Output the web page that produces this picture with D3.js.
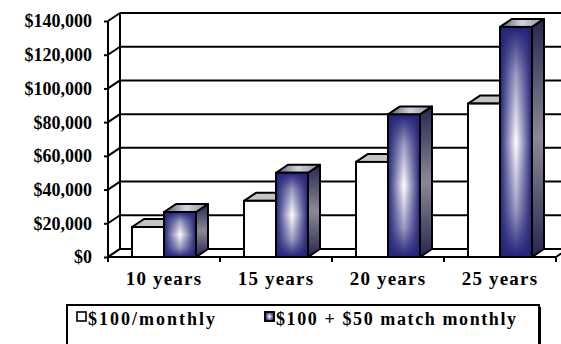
<!DOCTYPE html>
<html>
<head>
<meta charset="utf-8">
<script src="https://cdn.jsdelivr.net/npm/d3@7"></script>
<style>
  body { margin: 0; background: #fff; }
  svg { display: block; }
  text { font-family: "Liberation Serif", "Times New Roman", serif; font-weight: bold; fill: #000; }
</style>
</head>
<body>
<svg id="chart"></svg>
<script>
// chart data
const categories = ['10 years', '15 years', '20 years', '25 years'];
const seriesNames = ['$100/monthly', '$100 + $50 match monthly'];
const monthlyValues = [17800, 33300, 56400, 91000];
const matchValues = [26700, 50000, 84600, 136500];
const yTicks = [0, 20000, 40000, 60000, 80000, 100000, 120000, 140000];

const width = 561, height = 344;
const depth = {dx: 12, dy: 8};   // 3d offset of the back wall
const plot = {left: 108, right: 556, top: 21, bottom: 257};

const svg = d3.select('#chart')
    .attr('width', width)
    .attr('height', height);

// gradients for the blue columns
const defs = svg.append('defs');

function linGrad(id, horizontal, stops) {
  const g = defs.append('linearGradient')
      .attr('id', id)
      .attr('x1', 0).attr('y1', 0)
      .attr('x2', horizontal ? 1 : 0)
      .attr('y2', horizontal ? 0 : 1);
  stops.forEach(s => g.append('stop')
      .attr('offset', s[0])
      .attr('stop-color', s[1])
      .attr('stop-opacity', s[2] === undefined ? 1 : s[2]));
}
const navy = '#222278';
linGrad('frontH', true, [[0, navy], [0.5, '#ffffff'], [1, navy]]);
linGrad('frontV', false, [[0, navy, 1], [0.2, navy, 0.45], [0.5, navy, 0], [0.8, navy, 0.45], [1, navy, 1]]);
linGrad('sideV', false, [[0, '#262650'], [0.5, '#8a8a94'], [1, '#262650']]);
linGrad('topH', true, [[0, '#55557a'], [0.5, '#d4d4dc'], [1, '#8a8a9c']]);

// scales
const x0 = d3.scaleBand()
    .domain(categories)
    .range([plot.left, plot.right])
    .padding(0);

const x1 = d3.scaleBand()
    .domain(seriesNames)
    .range([0, x0.bandwidth()])
    .paddingInner(0)
    .paddingOuter(0.75);

const y = d3.scaleLinear()
    .domain([0, 140000])
    .range([plot.bottom, plot.top]);

const g = svg.append('g');
const lineW = 2;

// back wall gridlines
g.selectAll('.grid')
    .data(yTicks)
  .join('line')
    .attr('class', 'grid')
    .attr('x1', plot.left + depth.dx)
    .attr('x2', plot.right + depth.dx)
    .attr('y1', d => y(d) - depth.dy)
    .attr('y2', d => y(d) - depth.dy)
    .attr('stroke', '#000')
    .attr('stroke-width', lineW);

// left wall
g.append('line')
    .attr('x1', plot.left + depth.dx).attr('x2', plot.left + depth.dx)
    .attr('y1', y(140000) - depth.dy).attr('y2', y(0) - depth.dy)
    .attr('stroke', '#000').attr('stroke-width', lineW);

g.selectAll('.wall-diag')
    .data(yTicks)
  .join('line')
    .attr('class', 'wall-diag')
    .attr('x1', plot.left)
    .attr('x2', plot.left + depth.dx)
    .attr('y1', d => y(d))
    .attr('y2', d => y(d) - depth.dy)
    .attr('stroke', '#000')
    .attr('stroke-width', lineW);

// floor
g.append('path')
    .attr('d', `M${plot.left},${y(0)}L${plot.right},${y(0)}L${plot.right + depth.dx},${y(0) - depth.dy}L${plot.left + depth.dx},${y(0) - depth.dy}Z`)
    .attr('fill', '#fff')
    .attr('stroke', '#000')
    .attr('stroke-width', lineW)
    .attr('stroke-linejoin', 'round');

// y axis (front edge)
const yAxis = d3.axisLeft(y)
    .tickValues(yTicks)
    .tickSize(4)
    .tickPadding(12)
    .tickFormat(d3.format('$,'));

const yAxisG = g.append('g')
    .attr('transform', `translate(${plot.left},0)`)
    .call(yAxis)
    .attr('font-family', null)
    .attr('font-size', null);
yAxisG.select('.domain')
    .attr('stroke-width', lineW)
    .attr('d', `M0,${y(140000)}V${y(0)}`);
yAxisG.selectAll('.tick line').attr('stroke-width', lineW);
yAxisG.selectAll('.tick text')
    .style('font-size', '18px')
    .attr('dy', '0.33em');

// x axis (front edge of floor), ticks between categories
const xAxisG = g.append('g');
xAxisG.selectAll('.xtick')
    .data(categories.map(c => x0(c)).concat([plot.right]))
  .join('line')
    .attr('class', 'xtick')
    .attr('x1', d => d).attr('x2', d => d)
    .attr('y1', y(0)).attr('y2', y(0) + 5)
    .attr('stroke', '#000')
    .attr('stroke-width', lineW);

xAxisG.selectAll('.xlabel')
    .data(categories)
  .join('text')
    .attr('class', 'xlabel')
    .attr('x', d => x0(d) + x0.bandwidth() / 2)
    .attr('y', 285)
    .attr('text-anchor', 'middle')
    .style('font-size', '19px')
    .style('letter-spacing', '1.2px')
    .text(d => d);

// bars
const barData = [];
categories.forEach((c, i) => {
  barData.push({cat: c, series: seriesNames[0], value: monthlyValues[i]});
  barData.push({cat: c, series: seriesNames[1], value: matchValues[i]});
});

const bars = g.selectAll('.bar')
    .data(barData)
  .join('g')
    .attr('class', 'bar');

bars.each(function(d) {
  const b = d3.select(this);
  const xl = x0(d.cat) + x1(d.series);
  const xr = xl + x1.bandwidth();
  const yt = y(d.value), yb = y(0);
  const isMatch = d.series === seriesNames[1];

  // side face
  b.append('path')
      .attr('d', `M${xr},${yb}L${xr + depth.dx},${yb - depth.dy}L${xr + depth.dx},${yt - depth.dy}L${xr},${yt}Z`)
      .attr('fill', isMatch ? 'url(#sideV)' : '#fff')
      .attr('stroke', '#000').attr('stroke-width', lineW)
      .attr('stroke-linejoin', 'round');
  // top face
  b.append('path')
      .attr('d', `M${xl},${yt}L${xl + depth.dx},${yt - depth.dy}L${xr + depth.dx},${yt - depth.dy}L${xr},${yt}Z`)
      .attr('fill', isMatch ? 'url(#topH)' : '#c4c4c4')
      .attr('stroke', '#000').attr('stroke-width', lineW)
      .attr('stroke-linejoin', 'round');
  // front face
  b.append('rect')
      .attr('x', xl).attr('y', yt)
      .attr('width', xr - xl).attr('height', yb - yt)
      .attr('fill', isMatch ? 'url(#frontH)' : '#fff');
  if (isMatch) {
    b.append('rect')
        .attr('x', xl).attr('y', yt)
        .attr('width', xr - xl).attr('height', yb - yt)
        .attr('fill', 'url(#frontV)');
  }
  b.append('rect')
      .attr('x', xl).attr('y', yt)
      .attr('width', xr - xl).attr('height', yb - yt)
      .attr('fill', 'none')
      .attr('stroke', '#000').attr('stroke-width', lineW);
});

// legend
const legend = svg.append('g');
legend.append('rect')
    .attr('x', 67).attr('y', 305)
    .attr('width', 472).attr('height', 50)
    .attr('fill', '#fff')
    .attr('stroke', '#000')
    .attr('stroke-width', 2);
legend.append('line')
    .attr('x1', 540).attr('x2', 540)
    .attr('y1', 307).attr('y2', 344)
    .attr('stroke', '#000').attr('stroke-width', 2);

const legendX = [77, 265];
seriesNames.forEach((s, i) => {
  const lx = legendX[i];
  legend.append('rect')
      .attr('x', lx).attr('y', 312)
      .attr('width', 9).attr('height', 9)
      .attr('fill', i === 0 ? '#fff' : 'url(#frontH)')
      .attr('stroke', '#000')
      .attr('stroke-width', 1.6);
  if (i === 1) {
    legend.append('rect')
        .attr('x', lx).attr('y', 312)
        .attr('width', 9).attr('height', 9)
        .attr('fill', 'url(#frontV)')
        .attr('stroke', '#000')
        .attr('stroke-width', 1.6);
  }
  legend.append('text')
      .attr('x', lx + 11)
      .attr('y', 325)
      .style('font-size', '18px')
      .style('letter-spacing', i === 0 ? '2px' : '1.6px')
      .text(s);
});
</script>
</body>
</html>
